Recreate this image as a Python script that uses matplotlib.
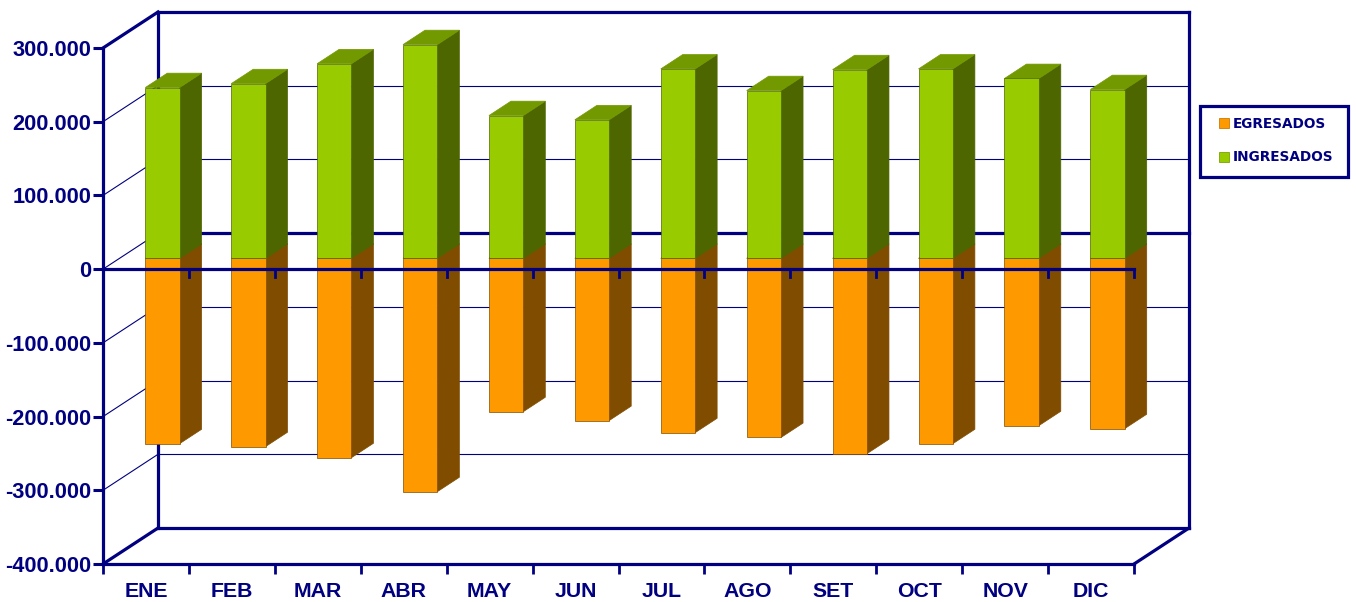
import matplotlib
matplotlib.use("Agg")
import matplotlib.pyplot as plt
from matplotlib.patches import Polygon, Patch, Rectangle
from matplotlib.ticker import FuncFormatter

plt.rcParams['font.family'] = ['Liberation Sans', 'DejaVu Sans']

# Data
meses = ["ENE", "FEB", "MAR", "ABR", "MAY", "JUN", "JUL", "AGO", "SET", "OCT", "NOV", "DIC"]
ingresados = [231700, 237000, 264000, 290000, 193700, 188000, 257000, 227600, 256000, 257000, 244000, 229000]
egresados = [-251400, -255400, -270400, -316500, -208000, -220000, -236500, -243000, -265000, -251400, -227000, -231000]
y_ticks = [-400000, -300000, -200000, -100000, 0, 100000, 200000, 300000]

# Colours
navy = "#000080"
verde, verde_lado, verde_top = "#99CC00", "#4D6600", "#739900"
naranja, naranja_lado = "#FF9900", "#804C00"

# Oblique depth of the 3D box, in data units
dx = 0.64
dy = 48800
bar_w = 0.40
z0, z1 = 0.3, 0.7   # bar front and back, as a fraction of the depth

fig = plt.figure(figsize=(13.56, 6.02), dpi=100)
ax = fig.add_axes([103 / 1356, 38 / 602, 1031 / 1356, 516 / 602])
ax.patch.set_visible(False)
ax.set_xlim(0, 12)
ax.set_ylim(-400000, 300000)
for s in ["top", "right"]:
    ax.spines[s].set_visible(False)
for s in ["left", "bottom"]:
    ax.spines[s].set_color(navy)
    ax.spines[s].set_linewidth(2.3)


def line(xs, ys, lw=0.8, z=1):
    ax.plot(xs, ys, color=navy, lw=lw, zorder=z, clip_on=False, solid_capstyle="projecting")


# Back wall and side wall grid
for v in y_ticks:
    thick = v in (-400000, 300000)
    line([0, dx], [v, v + dy], 2.3 if thick else 0.8)
    line([dx, 12 + dx], [v + dy, v + dy], 2.3 if thick or v == 0 else 0.8)
line([dx, dx], [-400000 + dy, 300000 + dy], 2.3)
line([12 + dx, 12 + dx], [-400000 + dy, 300000 + dy], 2.3)
line([12, 12 + dx], [-400000, -400000 + dy], 2.3)


def box(x, v0, v1, front, side, top):
    # x is the left edge of the front face, before the depth offset
    xa, xb = x + z0 * dx, x + bar_w + z0 * dx
    ox, oy = (z1 - z0) * dx, (z1 - z0) * dy
    y0, y1 = min(v0, v1) + z0 * dy, max(v0, v1) + z0 * dy
    ax.add_patch(Polygon([(xb, y0), (xb + ox, y0 + oy), (xb + ox, y1 + oy), (xb, y1)],
                         fc=side, ec=side, lw=0.5, zorder=3, clip_on=False))
    ax.add_patch(Polygon([(xa, y1), (xb, y1), (xb + ox, y1 + oy), (xa + ox, y1 + oy)],
                         fc=top, ec=top, lw=0.5, zorder=3, clip_on=False))
    ax.add_patch(Polygon([(xa, y0), (xb, y0), (xb, y1), (xa, y1)],
                         fc=front, ec=side, lw=0.5, zorder=3.1, clip_on=False))


for i in range(len(meses)):
    x = i + 0.5 - bar_w / 2
    box(x, 0, egresados[i], naranja, naranja_lado, naranja_lado)
    box(x, 0, ingresados[i], verde, verde_lado, verde_top)

# Zero axis in front of the bars
line([0, 12], [0, 0], 2.3, 5)
for i in range(1, 13):
    line([i, i], [0, -10800], 2.0, 5)

ax.set_yticks(y_ticks)
ax.yaxis.set_major_formatter(FuncFormatter(lambda v, p: f"{int(v):,}".replace(",", ".")))
ax.set_xticks(range(13))
ax.set_xticklabels([])
ax.set_xticks([i + 0.5 for i in range(12)], labels=meses, minor=True)
ax.tick_params(axis="y", direction="out", length=7.5, width=2.2, color=navy, pad=1,
               labelcolor=navy, labelsize=15.7)
ax.tick_params(axis="x", which="major", direction="out", length=7.2, width=2.0, color=navy)
ax.tick_params(axis="x", which="minor", length=0, pad=13, labelcolor=navy, labelsize=15.3)
for t in ax.get_yticklabels() + ax.get_xticklabels(minor=True):
    t.set_fontweight("bold")

# Legend box, drawn apart so its padding can differ per side
fig.add_artist(Rectangle((1200 / 1356, 1 - 177 / 602), 148 / 1356, 71 / 602,
                         transform=fig.transFigure, fc="white", ec=navy, lw=2.3))
handles = [Patch(fc=naranja, ec="#CC7A00", lw=0.6, label="EGRESADOS"),
           Patch(fc=verde, ec="#7AA300", lw=0.6, label="INGRESADOS")]
leg = fig.legend(handles=handles, loc="upper left",
                 bbox_to_anchor=(1219 / 1356, 1 - 117 / 602),
                 frameon=False, borderaxespad=0, borderpad=0, labelspacing=1.42,
                 handlelength=0.75, handleheight=0.75, handletextpad=0.28,
                 prop={"family": "DejaVu Sans", "weight": "bold", "size": 9.8},
                 labelcolor=navy)

fig.savefig("out.png", dpi=100)
